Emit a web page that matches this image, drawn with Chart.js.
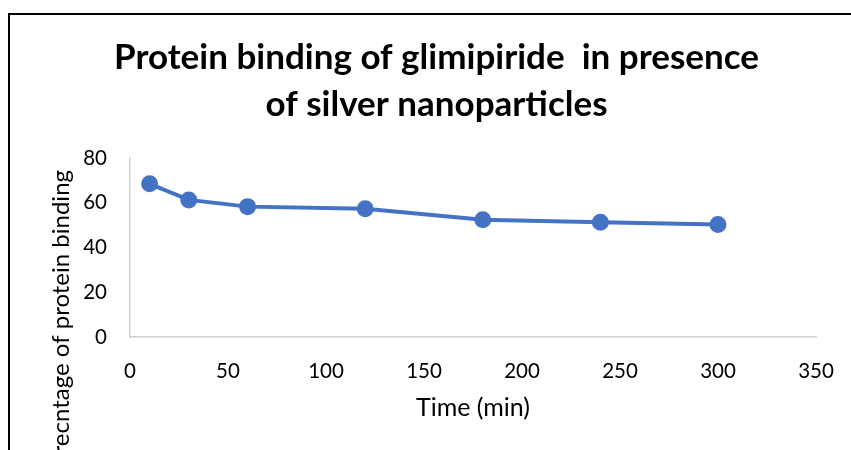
<!DOCTYPE html>
<html>
<head>
<meta charset="utf-8">
<script src="https://cdn.jsdelivr.net/npm/chart.js@4"></script>
<style>
    html, body { margin: 0; padding: 0; background: #fff; }
    body { width: 851px; height: 450px; overflow: hidden; position: relative; }
    #frame { position: absolute; left: 8px; top: 13px; width: 900px; height: 500px;
             border-top: 2px solid #000; border-left: 2px solid #000; }
    #wrap { position: absolute; left: 10px; top: 15px; width: 850px; height: 435px; }
</style>
</head>
<body>
<div id="frame"></div>
<div id="wrap"><canvas id="bindingChart"></canvas></div>
<script>
const timeMin = [10, 30, 60, 120, 180, 240, 300];
const bindingPct = [68.5, 61.3, 58.3, 57.3, 52.4, 51.3, 50.3];
const chartTitle = ["Protein binding of glimipiride  in presence", "of silver nanoparticles"];
const xTitle = "Time (min)";
const yTitle = "Perecntage of protein binding";

const FONT = "Lato, 'Open Sans', sans-serif";

// y axis title sits off-centre in the original, so draw it by hand
const yTitlePlugin = {
    id: "yTitle",
    afterDraw(chart) {
        const ctx = chart.ctx;
        ctx.save();
        ctx.font = "24px " + FONT;
        ctx.fillStyle = "#000";
        ctx.textAlign = "right";
        ctx.textBaseline = "middle";
        ctx.translate(51.5, 155);
        ctx.rotate(-Math.PI / 2);
        ctx.fillText(yTitle, 0, 0);
        ctx.restore();
    }
};

const points = timeMin.map((t, i) => ({ x: t, y: bindingPct[i] }));

new Chart(document.getElementById("bindingChart"), {
    type: "line",
    data: {
        datasets: [{
            data: points,
            borderColor: "#4472C4",
            backgroundColor: "#4472C4",
            borderWidth: 4,
            pointRadius: 6.5,
            pointHoverRadius: 6.5,
            tension: 0
        }]
    },
    options: {
        responsive: true,
        maintainAspectRatio: false,
        animation: false,
        layout: { padding: { left: 47, right: 44, top: 0, bottom: 0 } },
        plugins: {
            legend: { display: false },
            tooltip: { enabled: false },
            title: {
                display: true,
                text: chartTitle,
                color: "#000",
                font: { family: FONT, size: 35, weight: "bold", lineHeight: 1.33 },
                padding: { top: 19.75, bottom: 30.25 }
            }
        },
        scales: {
            x: {
                type: "linear",
                min: 0,
                max: 350,
                ticks: { stepSize: 50, padding: 22, color: "#000", font: { family: FONT, size: 20.5 } },
                grid: { display: false, drawTicks: false },
                border: { display: true, color: "#d0d0d0", width: 1.5 },
                title: {
                    display: true,
                    text: xTitle,
                    color: "#000",
                    font: { family: FONT, size: 25, lineHeight: 1.2 },
                    padding: { top: 0, bottom: 27 }
                },
                afterFit(scale) { scale.height = 113; }
            },
            y: {
                min: 0,
                max: 80,
                ticks: { stepSize: 20, padding: 23, color: "#000", font: { family: FONT, size: 20.5 } },
                grid: { display: false, drawTicks: false },
                border: { display: true, color: "#d0d0d0", width: 1.5 },
                afterFit(scale) { scale.width = 73; }
            }
        }
    },
    plugins: [yTitlePlugin]
});
</script>
</body>
</html>
